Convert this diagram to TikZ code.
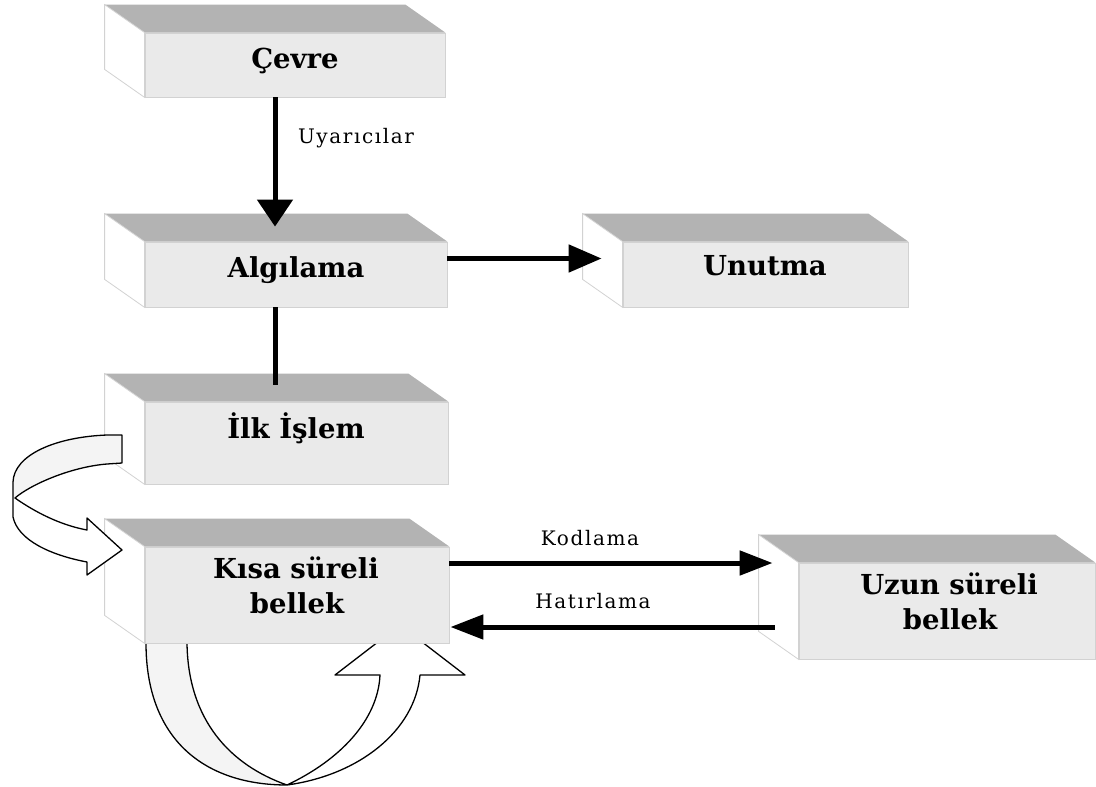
\documentclass[tikz,border=0pt]{standalone}
\usepackage{fontspec}
\setmainfont{Liberation Serif}
\newfontfamily\boxfont{DejaVu Serif}
\newfontfamily\labfont[LetterSpace=8]{DejaVu Serif}
\usetikzlibrary{arrows.meta,calc}
\definecolor{topgray}{HTML}{B3B3B3}
\definecolor{facegray}{HTML}{EAEAEA}
\definecolor{edgegray}{HTML}{D2D2D2}
\definecolor{bandgray}{HTML}{F4F4F4}
\newcommand\mycuboid[1]{%
  \fill[topgray] (#1.north west) -- ([shift={(-40,-28)}]#1.north west) -- ([shift={(-40,-28)}]#1.north east) -- (#1.north east) -- cycle;
  \draw[edgegray, line width=0.8pt, fill=white] (#1.north west) -- ([shift={(-40,-28)}]#1.north west) -- ([shift={(-40,-28)}]#1.south west) -- (#1.south west) -- cycle;
}
\begin{document}
\begin{tikzpicture}[x=1pt,y=-1pt,
  face/.style={draw=edgegray, line width=0.8pt, fill=facegray, inner sep=0pt},
  boxtext/.style={font=\boxfont\bfseries\fontsize{27.5}{35}\selectfont, anchor=base, inner sep=0pt},
  labtext/.style={font=\labfont\fontsize{20}{24}\selectfont, anchor=base, inner sep=0pt},
  thickline/.style={line width=5pt},
  band/.style={draw=black, line width=1.3pt, line join=round}
]
\useasboundingbox (0,0) rectangle (1096,787);

% bottom loop block arrow (its head is hidden under the box)
\fill[bandgray] (146,630) -- (146,643) .. controls (146,740) and (205,785) .. (287,785) .. controls (230,765) and (188,720) .. (187,643) -- (187,630) -- cycle;
\fill[white] (287,785) .. controls (360,775) and (415,730) .. (420,675) -- (465,675) -- (400,625) -- (335,675) -- (380,675) .. controls (378,720) and (340,760) .. (287,785) -- cycle;
\draw[band] (146,630) -- (146,643) .. controls (146,740) and (205,785) .. (287,785) .. controls (360,775) and (415,730) .. (420,675) -- (465,675) -- (400,625) -- (335,675) -- (380,675) .. controls (378,720) and (340,760) .. (287,785) .. controls (230,765) and (188,720) .. (187,643) -- (187,630);

% boxes
\node[face, minimum width=300pt, minimum height=64pt] (cevre) at (295,65) {};
\mycuboid{cevre}
\node[face, minimum width=302pt, minimum height=65pt] (algi) at (296,274.5) {};
\mycuboid{algi}
\node[face, minimum width=285pt, minimum height=65pt] (unut) at (765.5,274.5) {};
\mycuboid{unut}
\node[face, minimum width=303pt, minimum height=82pt] (ilk) at (296.5,443) {};
\mycuboid{ilk}
\node[face, minimum width=304pt, minimum height=96pt] (kisa) at (297,595) {};
\mycuboid{kisa}
\node[face, minimum width=296pt, minimum height=96pt] (uzun) at (947,611) {};
\mycuboid{uzun}

% box texts
\node[boxtext] (cevre-t) at (295,68) {Çevre};
\node[boxtext] (algi-t) at (296,277) {Algılama};
\node[boxtext] (unut-t) at (765,275) {Unutma};
\node[boxtext] (ilk-t) at (296,438) {İlk İşlem};
\node[boxtext] (kisa-t1) at (296,578) {Kısa süreli};
\node[boxtext] (kisa-t2) at (297,613) {bellek};
\node[boxtext] (uzun-t1) at (949,594) {Uzun süreli};
\node[boxtext] (uzun-t2) at (950,629) {bellek};

% labels
\node[labtext] (uyar) at (356,143) {Uyarıcılar};
\node[labtext] (kod) at (590,545) {Kodlama};
\node[labtext] (hat) at (593,608) {Hatırlama};

% connectors
\draw[thickline, -{Triangle[width=35pt,length=27pt]}] ([xshift=-20pt]cevre.south) -- ([xshift=-21pt,yshift=15pt]algi.north);
\draw[thickline, -{Triangle[width=27pt,length=33pt]}] ([yshift=16pt]algi.east) -- ([xshift=-21pt,yshift=16pt]unut.west);
\draw[thickline] ([xshift=-21pt]algi.south) -- ([xshift=-21.5pt,yshift=17pt]ilk.north);
\draw[thickline, -{Triangle[width=24pt,length=33pt]}] ([yshift=32pt]kisa.east) -- ([xshift=-26pt,yshift=48pt]uzun.west);
\draw[thickline, -{Triangle[width=24pt,length=33pt]}] ([xshift=-24pt,yshift=-16pt]uzun.west) -- ([xshift=1pt,yshift=-32pt]kisa.east);

% left curved block arrow
\fill[white] (122,435) -- (107,435) .. controls (55,437) and (14,455) .. (13,482) -- (13,517) .. controls (18,540) and (50,555) .. (87,562) -- (87,575) -- (122,550) -- (87,518) -- (87,530) .. controls (60,525) and (35,512) .. (15,498) .. controls (30,485) and (70,467) .. (107,464) -- (122,463) -- cycle;
\fill[bandgray] (122,435) -- (107,435) .. controls (55,437) and (14,455) .. (13,482) -- (13,498) -- (15,498) .. controls (30,485) and (70,467) .. (107,464) -- (122,463) -- cycle;
\draw[band] (122,435) -- (107,435) .. controls (55,437) and (14,455) .. (13,482) -- (13,517) .. controls (18,540) and (50,555) .. (87,562) -- (87,575) -- (122,550) -- (87,518) -- (87,530) .. controls (60,525) and (35,512) .. (15,498) .. controls (30,485) and (70,467) .. (107,464) -- (122,463) -- cycle;
\end{tikzpicture}
\end{document}
